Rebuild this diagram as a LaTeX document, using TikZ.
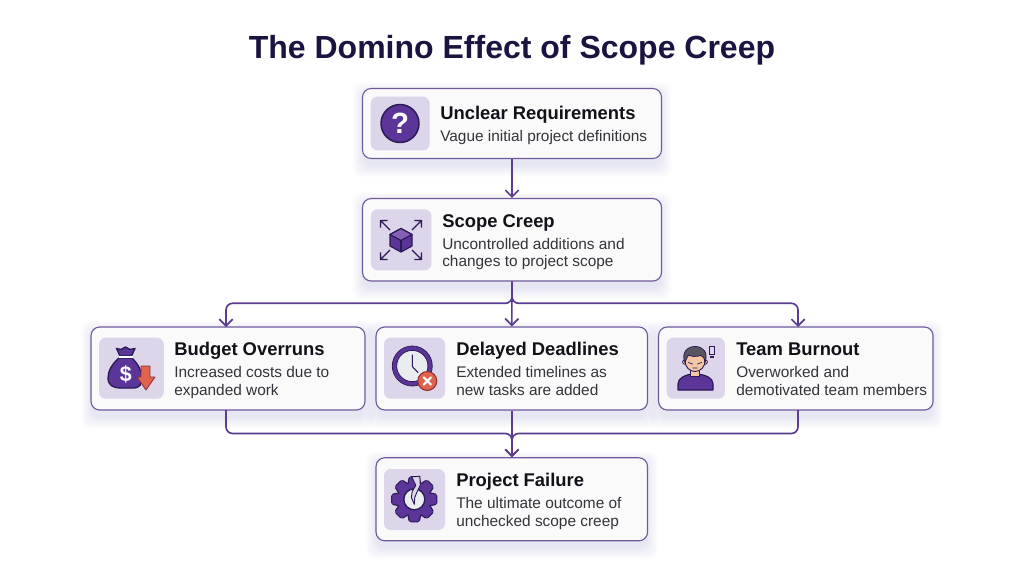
\documentclass[tikz,border=0pt]{standalone}
\usepackage{fontspec}
\setmainfont{Liberation Sans}
\usetikzlibrary{arrows.meta,backgrounds,calc}
\definecolor{linepurple}{HTML}{5A3C90}
\definecolor{boxline}{HTML}{6F5A9C}
\definecolor{boxfill}{HTML}{FAFAFB}
\definecolor{tilefill}{HTML}{DDD5EA}
\definecolor{iconpurple}{HTML}{5C3598}
\definecolor{iconlight}{HTML}{8560B5}
\definecolor{icondark}{HTML}{2A1A55}
\definecolor{titleink}{HTML}{1A1440}
\definecolor{inkdark}{HTML}{111118}
\definecolor{inkbody}{HTML}{33333A}
\definecolor{alertred}{HTML}{E0634E}
\definecolor{alertdark}{HTML}{8E2F35}
\definecolor{clockface}{HTML}{E9EDF0}
\definecolor{skin}{HTML}{F5C6A5}
\definecolor{hair}{HTML}{595660}
\newcommand{\softshadow}[1]{%
  \begin{scope}[on background layer]
    \foreach \spread in {1,...,12}{
      \fill[linepurple,opacity=.007,rounded corners=7pt]
        ($(#1.south west)+(-\spread+2,6+\spread)$) rectangle ($(#1.north east)+(\spread-2,6-\spread)$);
    }
  \end{scope}}
\tikzset{
  card/.style 2 args={draw=boxline,line width=.85pt,fill=boxfill,rounded corners=6.5pt,inner sep=0pt,minimum width=#1*0.75pt,minimum height=#2*0.75pt},
  tile/.style 2 args={fill=tilefill,rounded corners=5pt,inner sep=0pt,minimum width=#1*0.75pt,minimum height=#2*0.75pt},
  cardhead/.style={anchor=base west,inner sep=0pt,text=inkdark,font=\fontsize{13.8}{16}\selectfont\bfseries},
  carddesc/.style={anchor=base west,inner sep=0pt,text=inkbody,align=left,font=\fontsize{11.55}{13.1}\selectfont},
  conn/.style={draw=linepurple,line width=1.25pt,rounded corners=5pt},
  connarrow/.style={conn,-{Straight Barb[length=5pt,width=10pt,line width=1.25pt]}},
  iconarrow/.style={draw=icondark,line width=1pt,-{Straight Barb[length=3.6pt,width=7.5pt,line width=1pt]}}
}
\begin{document}
\begin{tikzpicture}[x=0.75pt,y=-0.75pt]
\useasboundingbox (0,0) rectangle (1024,572);
\begin{scope}[on background layer]
  \fill[white] (0,0) rectangle (1024,572);
\end{scope}

\node[anchor=base,inner sep=0pt,text=titleink,font=\fontsize{24}{28}\selectfont\bfseries] (title) at (512,58) {The Domino Effect of Scope Creep};

% cards
\node[card={299}{70}] (unclear) at (512,123.5) {};
\node[card={299}{82.5}] (scope) at (512,239.8) {};
\node[card={274}{83}] (budget) at (228,368.5) {};
\node[card={271.5}{83}] (delayed) at (511.8,368.5) {};
\node[card={274.5}{83}] (team) at (795.8,368.5) {};
\node[card={271.5}{83}] (failure) at (511.8,499.3) {};
\softshadow{unclear}\softshadow{scope}\softshadow{budget}\softshadow{delayed}\softshadow{team}\softshadow{failure}

% tiles
\node[tile={59}{53.6}] (tileA) at (400.2,123.5) {};
\node[tile={60.5}{61}] (tileB) at (401.2,239.8) {};
\node[tile={64.7}{61}] (tileC) at (131.4,368.2) {};
\node[tile={61}{61}] (tileD) at (414.5,368.2) {};
\node[tile={58.3}{61}] (tileE) at (695.8,368.2) {};
\node[tile={61}{61}] (tileF) at (414.5,499.5) {};

% text
\node[cardhead] (h1) at (440,119) {Unclear Requirements};
\node[carddesc] (d1) at (440,141) {Vague initial project definitions};
\node[cardhead] (h2) at (442,227) {Scope Creep};
\node[carddesc] (d2) at (442,266.7) {Uncontrolled additions and\\changes to project scope};
\node[cardhead] (h3) at (174,355) {Budget Overruns};
\node[carddesc] (d3) at (174,395) {Increased costs due to\\expanded work};
\node[cardhead] (h4) at (456,355) {Delayed Deadlines};
\node[carddesc] (d4) at (456,395) {Extended timelines as\\new tasks are added};
\node[cardhead] (h5) at (736,355) {Team Burnout};
\node[carddesc] (d5) at (736,395) {Overworked and\\demotivated team members};
\node[cardhead] (h6) at (456,486) {Project Failure};
\node[carddesc] (d6) at (456,526) {The ultimate outcome of\\unchecked scope creep};

% connectors
\coordinate (budgetIn) at (226,327);
\coordinate (teamIn) at (798,327);
\coordinate (budgetOut) at (226,410);
\coordinate (teamOut) at (798,410);
\coordinate (topBus) at (512,303.3);
\coordinate (lowBus) at (512,433.5);
\draw[connarrow] (unclear.south) -- (scope.north);
\draw[connarrow] (scope.south) -- (delayed.north);
\draw[connarrow] (scope.south) |- (budgetIn |- topBus) -- (budgetIn);
\draw[connarrow] (scope.south) |- (teamIn |- topBus) -- (teamIn);
\draw[conn] (delayed.south) -- (failure.north);
\draw[connarrow] (budgetOut) |- (lowBus) -- (failure.north);
\draw[connarrow] (teamOut) |- (lowBus) -- (failure.north);

% icon: question
\draw[fill=iconpurple,draw=icondark,line width=1.1pt] (400,123.5) circle (19);
\node[inner sep=0pt,text=white,font=\fontsize{22}{24}\selectfont\bfseries] (qmark) at (400,123.5) {?};

% icon: scope cube
\fill[iconpurple,draw=icondark,line width=.9pt,line join=round] (401,228.5) -- (412,234.5) -- (412,246) -- (401,252) -- (390,246) -- (390,234.5) -- cycle;
\fill[iconlight,draw=icondark,line width=.9pt,line join=round] (401,228.5) -- (412,234.5) -- (401,240.5) -- (390,234.5) -- cycle;
\draw[icondark,line width=.9pt] (401,240.5) -- (401,252);
\draw[iconarrow] (390,230) -- (380,220);
\draw[iconarrow] (412,230) -- (422,220);
\draw[iconarrow] (390,250) -- (380,260);
\draw[iconarrow] (412,250) -- (422,260);

% icon: money bag
\fill[iconpurple,draw=icondark,line width=1pt,line join=round]
  (119,358) .. controls (112,364) and (108,371) .. (108,378)
  .. controls (108,385) and (113,388) .. (120,388)
  -- (133,388) .. controls (140,388) and (142,384) .. (142,378)
  .. controls (142,371) and (138,364) .. (132,358) -- cycle;
\fill[iconpurple,draw=icondark,line width=1pt,line join=round]
  (120,356) -- (116.5,348.5) -- (121,349.5) -- (125.5,347) -- (130,349.5) -- (135,348.5) -- (131.5,356) -- cycle;
\draw[white,line width=1.3pt] (118.5,357.3) -- (132.5,357.3);
\node[inner sep=0pt,text=white,font=\fontsize{16}{17}\selectfont\bfseries] (dollar) at (125.7,374) {\$};
\fill[alertred,draw=alertdark,line width=.6pt,line join=round]
  (141,366) -- (150,366) -- (150,377) -- (155,377) -- (146,390) -- (137,377) -- (141,377) -- cycle;

% icon: clock
\draw[fill=clockface,draw=iconpurple,line width=3.2pt] (412.3,366) circle (17.8);
\draw[icondark,line width=.55pt] (412.3,366) circle (20);
\draw[icondark,line width=.55pt] (412.3,366) circle (15.6);
\draw[icondark,line width=.8pt,line cap=round,line join=round] (412.3,355) -- (412.3,366.5) -- (418,372.5);
\fill[alertred,draw=alertdark,line width=.8pt] (427.3,381) circle (9.5);
\draw[white,line width=1.6pt,line cap=round] (423.7,377.4) -- (430.9,384.6) (423.7,384.6) -- (430.9,377.4);

% icon: person
\fill[iconpurple,draw=icondark,line width=.9pt,line join=round]
  (678,390) -- (678,384) .. controls (678,378) and (685,375.5) .. (689,374.5)
  -- (701,374.5) .. controls (706,375.5) and (713,378) .. (713,384) -- (713,390) -- cycle;
\fill[skin,draw=icondark,line width=.6pt] (690.5,368) rectangle (699.5,376);
\fill[skin,draw=icondark,line width=.6pt] (684.8,362) circle (2.2);
\fill[skin,draw=icondark,line width=.6pt] (705.2,362) circle (2.2);
\fill[skin,draw=icondark,line width=.7pt] (695,361) ellipse (10 and 10.5);
\fill[hair,draw=icondark,line width=.6pt,line join=round]
  (685,362.5) .. controls (681,353) and (687,346.5) .. (695,346.5)
  .. controls (703,346.5) and (708.5,352) .. (705,362.5)
  .. controls (704.5,358) and (703,356) .. (701,355.5)
  .. controls (696,357) and (691,356.5) .. (688.5,355)
  .. controls (687,357) and (686,360) .. (685,362.5) -- cycle;
\draw[icondark,line width=.55pt,line cap=round] (688.5,362.5) -- (692.5,364) (697.5,364) -- (701.5,362.5) (692.8,368) -- (697.2,368);
\fill[tilefill,draw=icondark,line width=.7pt] (709.6,346) rectangle (714,354.5);
\fill[icondark] (710,355.8) rectangle (713.6,358.4);

% icon: broken gear
\begin{scope}[shift={(414.3,499.3)}]
  \foreach \ang in {0,45,...,315}{
    \fill[iconpurple,draw=icondark,line width=1pt,line join=round,rotate=\ang,rounded corners=1.2pt]
      (-6.5,-15) -- (-4.8,-22.5) -- (4.8,-22.5) -- (6.5,-15) -- cycle;
  }
  \fill[iconpurple,draw=icondark,line width=1pt] (0,0) circle (17);
  \foreach \ang in {0,45,...,315}{
    \fill[iconpurple,rotate=\ang] (-6,-14) -- (-4.3,-22) -- (4.3,-22) -- (6,-14) -- cycle;
  }
  \fill[clockface,draw=icondark,line width=1pt] (0,0) circle (10.5);
  \fill[tilefill,draw=icondark,line width=.7pt,line join=round]
    (-2.6,-22.5) -- (1.5,-14) -- (-2,-8) -- (-3,-2) -- (0,5) -- (0.5,-2) -- (3,-8) -- (6,-14) -- (5.5,-23) -- cycle;
\end{scope}
\end{tikzpicture}
\end{document}
